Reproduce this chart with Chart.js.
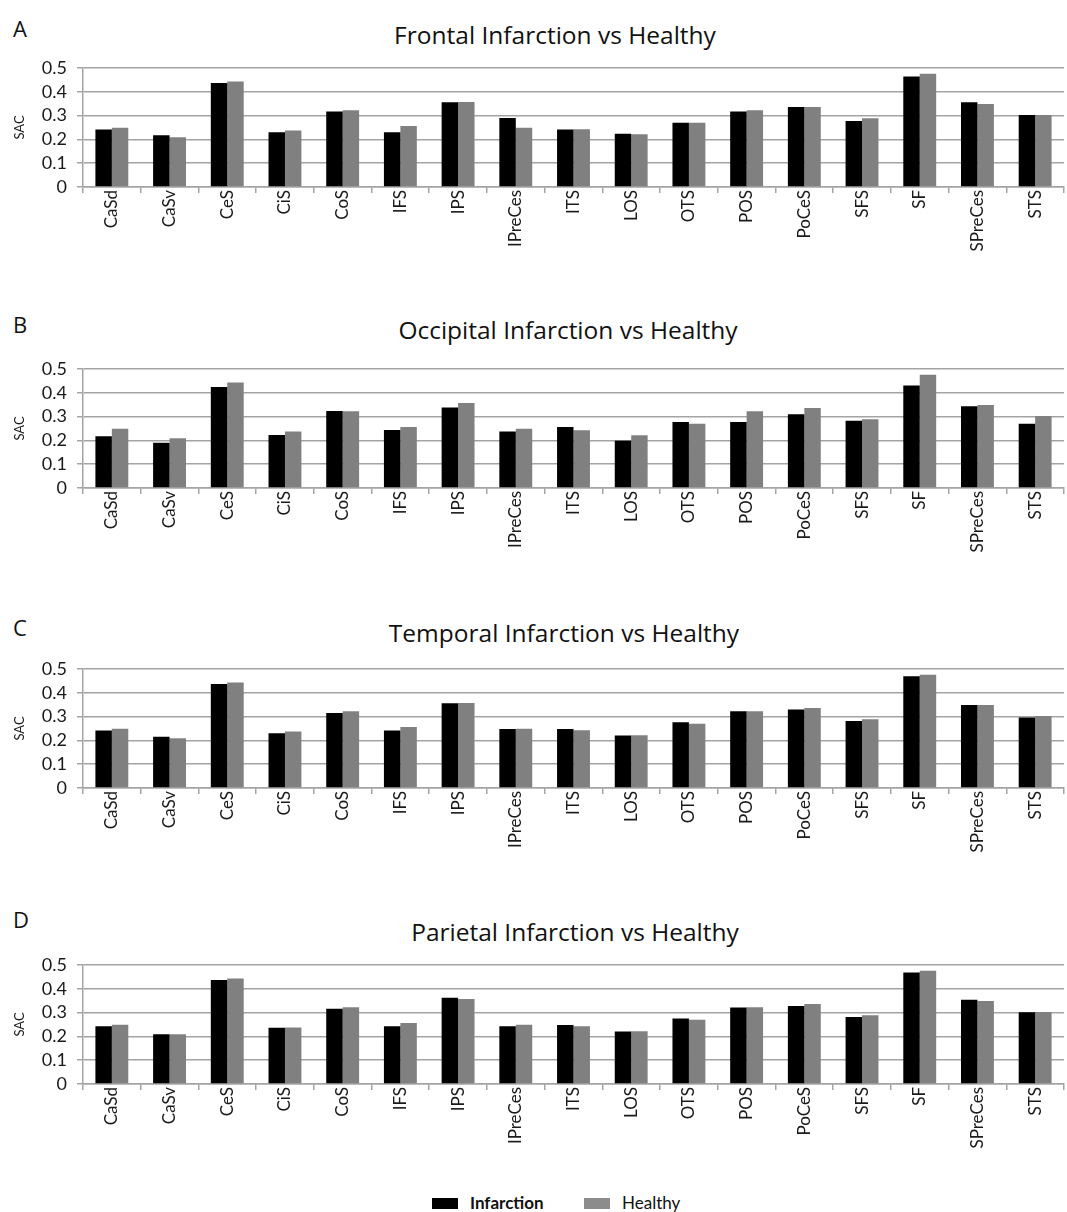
<!DOCTYPE html>
<html>
<head>
<meta charset="utf-8">
<script src="https://cdn.jsdelivr.net/npm/chart.js@4"></script>
<style>
    body { margin: 0; background: #fff; }
    #page { position: relative; width: 1067px; height: 1212px; overflow: hidden; font-family: 'Lato', sans-serif; }
    .panel-letter { position: absolute; left: 13px; font-family: 'Open Sans', sans-serif; font-size: 22px; line-height: 30px; color: #111; }
    .panel-title { position: absolute; font-family: 'Open Sans', sans-serif; font-size: 24.5px; line-height: 30px; color: #111; white-space: nowrap; transform: translateX(-50%); }
    canvas { position: absolute; left: 0; }
    .legend { position: absolute; top: 1192px; font-size: 17px; line-height: 22px; color: #111; display: flex; align-items: center; }
    .swatch { display: inline-block; width: 26px; height: 11px; margin-right: 12px; }
</style>
</head>
<body>
<div id="page">
    <div class="panel-letter" style="top:13px">A</div>
    <div class="panel-letter" style="top:309px">B</div>
    <div class="panel-letter" style="top:612px">C</div>
    <div class="panel-letter" style="top:904px">D</div>
    <div class="panel-title" style="left:555px; top:20px">Frontal Infarction vs Healthy</div>
    <div class="panel-title" style="left:568px; top:315px">Occipital Infarction vs Healthy</div>
    <div class="panel-title" style="left:564px; top:618px">Temporal Infarction vs Healthy</div>
    <div class="panel-title" style="left:575px; top:917px">Parietal Infarction vs Healthy</div>
    <canvas id="chartA"></canvas>
    <canvas id="chartB"></canvas>
    <canvas id="chartC"></canvas>
    <canvas id="chartD"></canvas>
    <div class="legend" style="left:432px"><span class="swatch" style="background:#000"></span><span style="font-weight:bold">Infarction</span></div>
    <div class="legend" style="left:584px"><span class="swatch" style="background:#8c8c8c"></span><span>Healthy</span></div>
</div>
<script>
// Sulcus labels
const categories = ['CaSd', 'CaSv', 'CeS', 'CiS', 'CoS', 'IFS', 'IPS', 'IPreCes', 'ITS',
    'LOS', 'OTS', 'POS', 'PoCeS', 'SFS', 'SF', 'SPreCes', 'STS'];

// Healthy group (same in every panel)
const healthy = [0.249, 0.209, 0.443, 0.237, 0.323, 0.256, 0.357, 0.249, 0.243,
    0.222, 0.270, 0.323, 0.336, 0.289, 0.476, 0.349, 0.302];

// Infarction groups
const frontalInfarction = [0.242, 0.217, 0.437, 0.230, 0.317, 0.230, 0.356, 0.290, 0.242,
    0.224, 0.270, 0.317, 0.336, 0.277, 0.464, 0.356, 0.303];
const occipitalInfarction = [0.217, 0.190, 0.424, 0.223, 0.324, 0.244, 0.338, 0.237, 0.256,
    0.199, 0.277, 0.277, 0.310, 0.283, 0.431, 0.344, 0.270];
const temporalInfarction = [0.242, 0.215, 0.437, 0.230, 0.315, 0.242, 0.356, 0.248, 0.248,
    0.221, 0.276, 0.323, 0.330, 0.282, 0.470, 0.349, 0.296];
const parietalInfarction = [0.243, 0.209, 0.437, 0.236, 0.316, 0.243, 0.362, 0.243, 0.248,
    0.221, 0.275, 0.321, 0.328, 0.282, 0.468, 0.354, 0.301];

const yTicks = [0, 0.1, 0.2, 0.3, 0.4, 0.5];

const gridColor = '#a4a4a4';
const textColor = '#1a1a1a';

Chart.defaults.font.family = 'Lato';

// where each plot sits on the page (0.5 line and 0 line)
const panels = [
    { id: 'chartA', data: frontalInfarction, plotTop: 68, plotBottom: 186.5 },
    { id: 'chartB', data: occipitalInfarction, plotTop: 369, plotBottom: 487.5 },
    { id: 'chartC', data: temporalInfarction, plotTop: 669, plotBottom: 788 },
    { id: 'chartD', data: parietalInfarction, plotTop: 965, plotBottom: 1084 }
];

// top padding must exceed half a y label + tick padding, or Chart.js pushes the plot down
const PAD_TOP = 24;
const XAXIS_H = 95;

panels.forEach(p => {
    const canvas = document.getElementById(p.id);
    const top = p.plotTop - PAD_TOP;
    const h = Math.round(p.plotBottom - top + XAXIS_H);
    canvas.width = 1067;
    canvas.height = h;
    canvas.style.top = top + 'px';
    canvas.style.width = '1067px';
    canvas.style.height = h + 'px';

    new Chart(canvas.getContext('2d'), {
        type: 'bar',
        data: {
            labels: categories,
            datasets: [
                { label: 'Infarction', data: p.data, backgroundColor: '#000000', borderWidth: 0 },
                { label: 'Healthy', data: healthy, backgroundColor: '#808080', borderWidth: 0 }
            ]
        },
        options: {
            responsive: false,
            animation: false,
            layout: { padding: { left: 0, right: 3, top: PAD_TOP, bottom: 0 } },
            datasets: { bar: { categoryPercentage: 0.57, barPercentage: 1.0 } },
            plugins: {
                legend: { display: false },
                tooltip: { enabled: false },
                title: { display: false }
            },
            scales: {
                x: {
                    offset: true,
                    grid: { display: true, drawOnChartArea: false, color: gridColor, lineWidth: 1.5, tickLength: 6, offset: true },
                    border: { color: gridColor, width: 1.5 },
                    ticks: { color: textColor, font: { size: 17 }, minRotation: 90, maxRotation: 90, padding: -3, autoSkip: false },
                    afterFit(scale) { scale.height = XAXIS_H; }
                },
                y: {
                    min: 0,
                    max: 0.5,
                    afterBuildTicks(scale) { scale.ticks = yTicks.map(v => ({ value: v })); },
                    grid: { color: gridColor, lineWidth: 1.5, tickLength: 6 },
                    border: { color: gridColor, width: 1.5 },
                    ticks: {
                        color: textColor,
                        font: { size: 18 },
                        padding: 10,
                        autoSkip: false,
                        callback: v => v === 0 ? '0' : v.toFixed(1)
                    },
                    title: { display: true, text: 'SAC', color: textColor, font: { size: 13 }, padding: { top: 12, bottom: 0 } },
                    afterFit(scale) { scale.width = 83; }
                }
            }
        }
    });
});
</script>
</body>
</html>
